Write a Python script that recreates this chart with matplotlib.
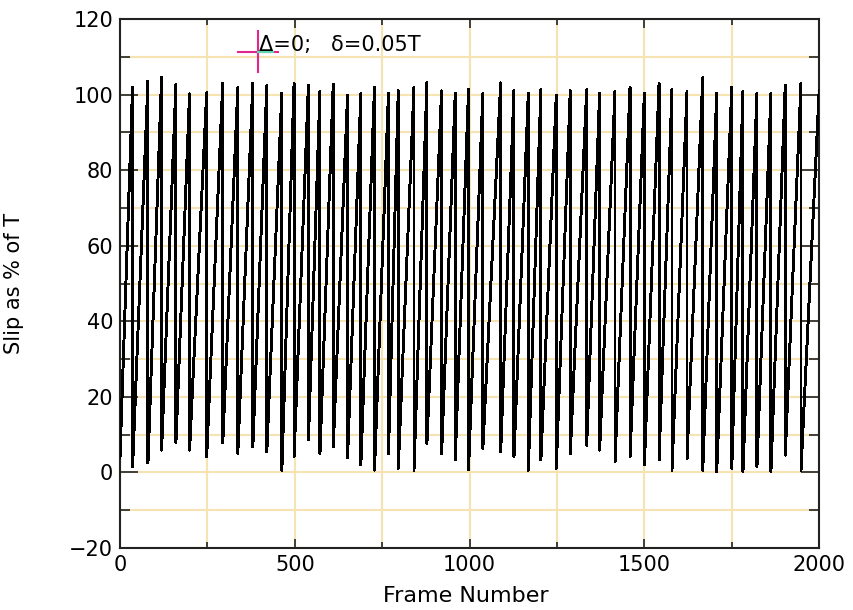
import matplotlib
matplotlib.use("Agg")
import matplotlib.pyplot as plt
from matplotlib.ticker import MultipleLocator

# frame numbers where slip wraps from ~100% back to ~0%
drop_frames = [36, 80, 119, 160, 199, 248, 294, 337, 380, 420,
               463, 498, 539, 572, 610, 651, 689, 728, 768, 796,
               841, 878, 920, 959, 997, 1038, 1089, 1127, 1168, 1204,
               1248, 1288, 1335, 1372, 1416, 1459, 1500, 1542, 1579, 1622,
               1667, 1707, 1750, 1782, 1822, 1862, 1903, 1948]

# slip just before each wrap (%)
peak_slip = [102.0, 103.6, 104.6, 102.6, 100.2, 100.5, 103.0, 101.8, 103.0, 102.4,
             100.4, 103.0, 102.4, 100.9, 102.8, 99.8, 100.3, 102.0, 100.3, 101.0,
             101.9, 103.1, 101.0, 100.3, 101.3, 100.3, 103.1, 101.0, 100.3, 101.3,
             99.8, 101.0, 101.3, 100.3, 100.9, 101.9, 100.3, 102.9, 101.3, 100.9,
             104.5, 100.3, 101.9, 100.9, 100.3, 100.3, 102.5, 102.9]

# slip just after each wrap (%)
trough_slip = [1.5, 2.5, 5.9, 7.9, 5.9, 4.2, 7.9, 5.0, 6.8, 5.5,
               0.6, 4.2, 8.6, 5.0, 6.8, 4.0, 2.0, 0.6, 5.0, 1.1,
               0.6, 7.7, 5.0, 3.3, 0.8, 6.4, 5.5, 4.2, 0.6, 3.3,
               1.1, 5.0, 7.2, 5.9, 2.8, 4.2, 2.0, 3.3, 0.6, 3.7,
               0.6, 0.2, 1.1, 0.2, 1.5, 0.2, 4.6, 0.5]

start_frame, start_slip = 0, 4.0
end_frame, end_slip = 2000, 101.0

legend_text = "Δ=0;   δ=0.05T"

# build the line vertex list
frames = [start_frame]
slip = [start_slip]
for d, p, t in zip(drop_frames, peak_slip, trough_slip):
    frames += [d, d]
    slip += [p, t]
frames.append(end_frame)
slip.append(end_slip)

grid_col = "#f6e3b2"

fig = plt.figure(figsize=(8.54, 6.10), dpi=100)
ax = fig.add_axes([0.1405, 0.1016, 0.8187, 0.8672])

ax.plot(frames, slip, color="black", lw=1.4, antialiased=False, zorder=3)

ax.set_xlim(0, 2000)
ax.set_ylim(-20, 120)

ax.xaxis.set_major_locator(MultipleLocator(500))
ax.xaxis.set_minor_locator(MultipleLocator(250))
ax.yaxis.set_major_locator(MultipleLocator(20))
ax.yaxis.set_minor_locator(MultipleLocator(10))

ax.grid(True, which="both", color=grid_col, lw=1.5, zorder=0)
ax.set_axisbelow(True)

ax.tick_params(which="both", direction="in", top=True, right=True,
               width=1.2, color="#222222", labelsize=15, pad=5)
ax.tick_params(axis="y", which="major", length=13)
ax.tick_params(axis="y", which="minor", length=7)
ax.tick_params(axis="x", which="major", length=6.5)
ax.tick_params(axis="x", which="minor", length=4)

for s in ax.spines.values():
    s.set_linewidth(1.5)
    s.set_color("#222222")

ax.set_xlabel("Frame Number", fontsize=16)
ax.set_ylabel("Slip as % of T", fontsize=15)
ax.xaxis.set_label_coords(0.495, -0.072)
ax.yaxis.set_label_coords(-0.137, 0.5)

# legend: magenta cursor cross with short cyan line, then the text
ax.plot([0.169, 0.226], [0.938, 0.938], color="#e0288c", lw=1.5,
        transform=ax.transAxes, clip_on=False, zorder=4)
ax.plot([0.197, 0.197], [0.900, 0.977], color="#e0288c", lw=1.5,
        transform=ax.transAxes, clip_on=False, zorder=4)
ax.plot([0.197, 0.219], [0.938, 0.938], color="#5fd8b0", lw=1.5,
        transform=ax.transAxes, clip_on=False, zorder=5)
ax.text(0.199, 0.951, legend_text, transform=ax.transAxes,
        fontsize=15, va="center", ha="left", zorder=6)

fig.savefig("out.png", dpi=100)
